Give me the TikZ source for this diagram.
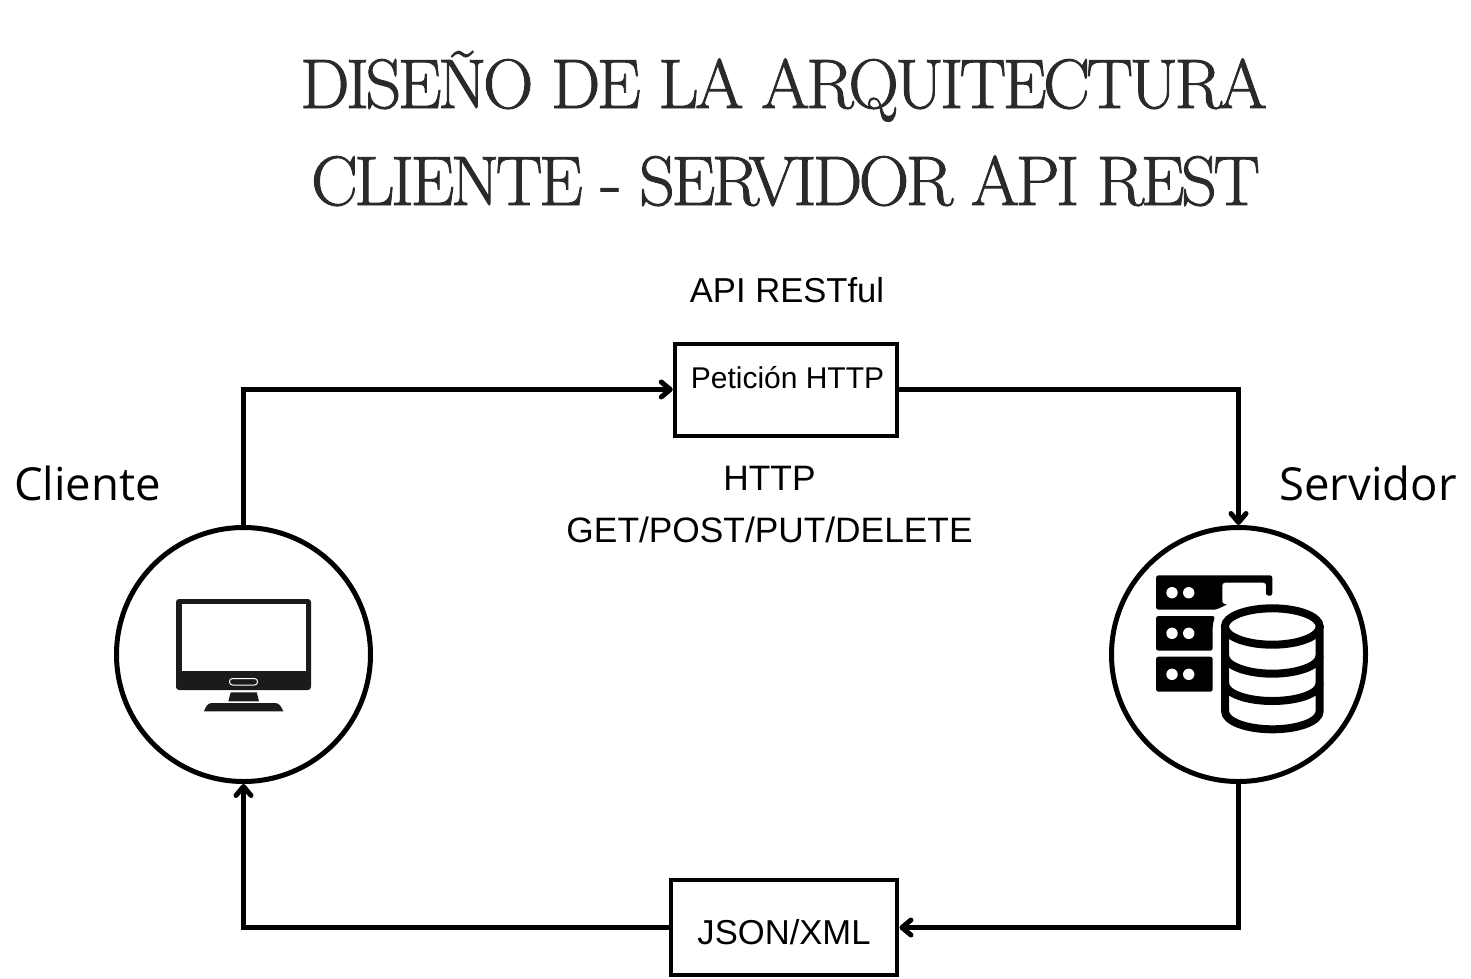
\documentclass[tikz,border=0pt]{standalone}
\usepackage{fontspec}
\usetikzlibrary{arrows.meta}
\newfontfamily\labelfont{Open Sans}
\newfontfamily\boxfont{Liberation Sans}
\newfontfamily\titlefont[FakeBold=1.3,LetterSpace=-5.1]{Latin Modern Roman}
\tikzset{>={Straight Barb[length=9pt,width=15pt,round]}}
\tikzset{
    flow/.style={->,line width=5pt},
    endpoint/.style={circle,draw,line width=5pt,minimum size=254pt,inner sep=0pt},
    msgbox/.style={rectangle,draw,line width=4pt,inner sep=0pt},
    titletext/.style={text=titlegray,inner sep=0pt,anchor=base,font=\titlefont\fontsize{70}{70}\selectfont},
    biglabel/.style={inner sep=0pt,anchor=base,font=\labelfont\fontsize{45.5}{50}\selectfont},
    midlabel/.style={inner sep=0pt,anchor=base,font=\boxfont\fontsize{35.3}{40}\selectfont},
    tightlabel/.style={inner sep=0pt,anchor=base,font=\boxfont\fontsize{34.6}{40}\selectfont}
}
\definecolor{titlegray}{HTML}{2A2A2A}
\definecolor{iconblack}{HTML}{1C1A1B}

\begin{document}
\begin{tikzpicture}[x=1pt,y=-1pt]
    \useasboundingbox (0,0) rectangle (1471,978);
    % set up the title
    \node[titletext] (title1) at (783.5,108) {DISEÑO DE LA ARQUITECTURA};
    \node[titletext] (title2) at (785.5,205) {CLIENTE - SERVIDOR API REST};
    % set up the nodes
    \node[endpoint] (cliente) at (243.5,654.5) {};
    \node[endpoint] (servidor) at (1238.5,654.5) {};
    \node[msgbox,minimum width=222.5pt,minimum height=92pt] (peticion) at (786,389.5) {};
    \node[msgbox,minimum width=226.5pt,minimum height=94.5pt] (json) at (784.2,927.5) {};
    % text around the nodes
    \node[biglabel] (clientelabel) at (87.5,500) {Cliente};
    \node[biglabel] (servidorlabel) at (1368,500) {Servidor};
    \node[tightlabel] (apilabel) at (787,302) {API RESTful};
    \node[midlabel,font=\boxfont\fontsize{30}{34}\selectfont] (peticionlabel) at (787.5,388) {Petición HTTP};
    \node[midlabel] (httplabel) at (769.5,490) {HTTP};
    \node[midlabel] (verbslabel) at (769.5,542) {GET/POST/PUT/DELETE};
    \node[tightlabel] (jsonlabel) at (784,944) {JSON/XML};
    % draw arrows between them
    \draw[flow] (cliente.north) |- (peticion.west);
    \draw[flow] (peticion.east) -| (servidor.north);
    \draw[flow] (servidor.south) |- (json.east);
    \draw[flow] (json.west) -| (cliente.south);
    % monitor icon
    \fill[iconblack,rounded corners=3pt] (176,599) rectangle (311,690);
    \fill[white] (181.5,604) rectangle (306,671);
    \draw[white,line width=1pt,rounded corners=3pt] (229.5,678.5) rectangle (257.5,685);
    \fill[iconblack] (230.7,692.3) -- (256.7,692.3) -- (259,701.3) -- (228.3,701.3) -- cycle;
    \fill[iconblack] (204,711.3) .. controls (206,706) and (208,703) .. (212,703) -- (275,703) .. controls (279,703) and (281,706) .. (283.3,711.3) -- cycle;
    % server racks
    \fill[black,rounded corners=2.5pt] (1156,609.7) -- (1156,575.3) -- (1272.3,575.3) -- (1272.3,595.7) -- (1266,595.7) -- (1266,582.7) -- (1222.3,582.7) -- (1222.3,604) -- (1228,604) -- (1216,609.7) -- cycle;
    \fill[black,rounded corners=2.5pt] (1156,650.7) -- (1156,616) -- (1215,616) -- (1212.7,625) -- (1212.7,650.7) -- cycle;
    \fill[black,rounded corners=2.5pt] (1156,691.7) -- (1156,656.7) -- (1212.7,656.7) -- (1212.7,691.7) -- cycle;
    \foreach \rowy in {592.7,633.3,674.3} {
        \fill[white] (1172,\rowy) circle (5.7);
        \fill[white] (1188.7,\rowy) circle (5.7);
    }
    % database
    \draw[line width=8pt] (1272.3,626.5) ellipse (47.4 and 18.2);
    \draw[line width=8pt] (1225,626.5) -- (1225,711) .. controls (1225,722) and (1248,729.3) .. (1272.3,729.3) .. controls (1297,729.3) and (1319.7,722) .. (1319.7,711) -- (1319.7,626.5);
    \draw[line width=8pt] (1225,655.5) .. controls (1225,666) and (1248,673.7) .. (1272.3,673.7) .. controls (1297,673.7) and (1319.7,666) .. (1319.7,655.5);
    \draw[line width=8pt] (1225,683) .. controls (1225,694) and (1248,701) .. (1272.3,701) .. controls (1297,701) and (1319.7,694) .. (1319.7,683);
\end{tikzpicture}
\end{document}
